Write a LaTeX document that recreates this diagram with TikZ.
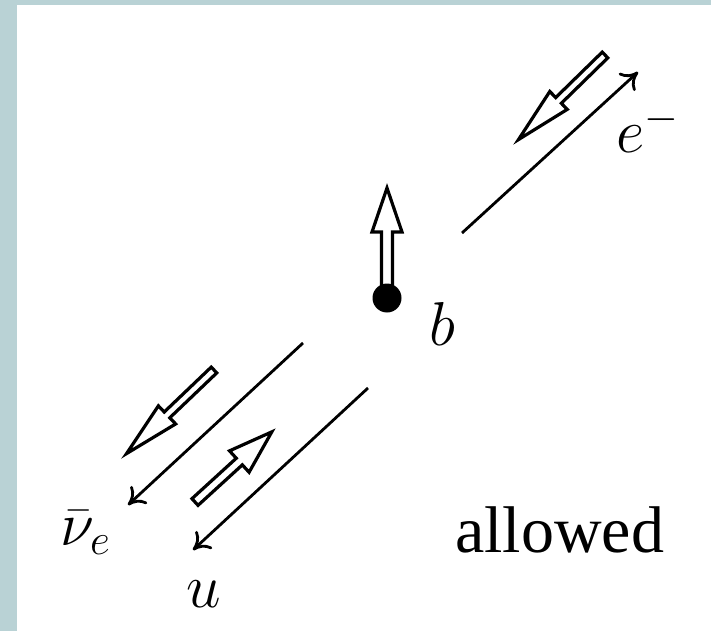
\documentclass[tikz,border=0pt]{standalone}
\usepackage{fix-cm}
\usepackage[no-math]{fontspec}
\setmainfont{Liberation Serif}
\usetikzlibrary{arrows.meta}
\definecolor{framegray}{HTML}{B9D2D5}

% hollow spin arrow: tail, angle, length, head length, head half width, shaft half width
\newcommand{\spinarrow}[6]{%
  \begin{scope}[shift={#1}, rotate=#2]
    \draw[spin] (0,-#6) -- (#3-#4,-#6) -- (#3-#4,-#5) -- (#3,0)
      -- (#3-#4,#5) -- (#3-#4,#6) -- (0,#6) -- cycle;
  \end{scope}}

\begin{document}
\begin{tikzpicture}[
    x=1pt, y=-1pt,
    spin/.style={draw=black, fill=white, line width=3.2pt},
    momentum/.style={line width=2.8pt, -{Computer Modern Rightarrow[length=16pt, width=24pt]}},
    physlabel/.style={inner sep=0pt, anchor=base west, font=\fontsize{62}{70}\selectfont}
]
    \useasboundingbox (0,0) rectangle (711,631);

    % frame
    \fill[framegray] (0,0) rectangle (711,631);
    \fill[white] (17,5) rectangle (711,631);

    % momentum lines
    \coordinate (eS) at (462,233);
    \coordinate (eT) at (638,72);
    \coordinate (nS) at (303,343);
    \coordinate (nT) at (128,505);
    \coordinate (uS) at (368,388);
    \coordinate (uT) at (193,550);
    \draw[momentum] (eS) -- (eT);
    \draw[momentum] (nS) -- (nT);
    \draw[momentum] (uS) -- (uT);

    % spins
    \spinarrow{(387,298)}{90}{110}{44}{15}{5.5}
    \spinarrow{(605,55)}{224.35}{121}{56}{12.5}{4}
    \spinarrow{(214,370)}{223.7}{121}{56}{12.5}{4}
    \spinarrow{(195,502)}{42.4}{104}{44}{14.5}{4.5}

    % b quark
    \node[circle, fill=black, minimum size=29pt, inner sep=0pt] (bdot) at (387,298) {};

    % labels
    \node[physlabel] (blabel) at (429,345) {$b$};
    \node[physlabel] (elabel) at (616,153) {$e^-$};
    \node[physlabel] (nulabel) at (60,545) {$\bar{\nu}_e$};
    \node[physlabel] (ulabel) at (186,607) {$u$};
    \node[physlabel, font=\fontsize{66}{76}\selectfont] (allowed) at (455,552) {allowed};
\end{tikzpicture}
\end{document}
